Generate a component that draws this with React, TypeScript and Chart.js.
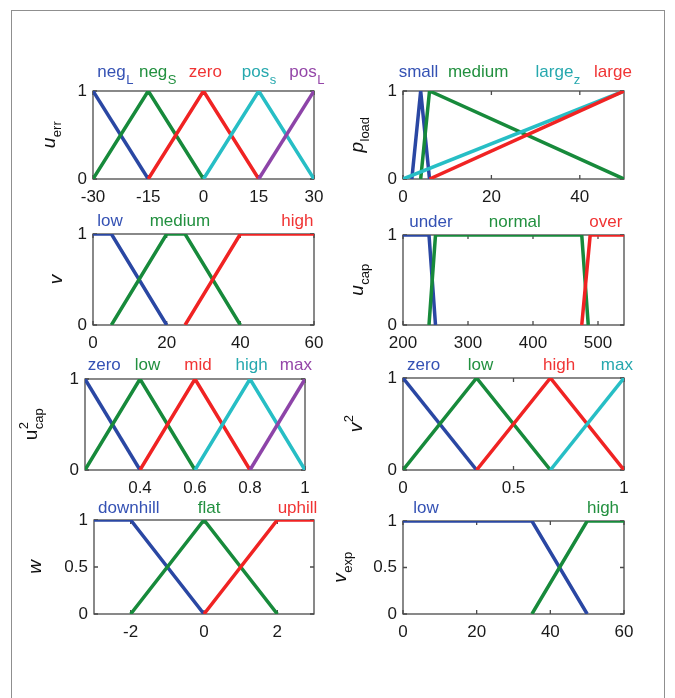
import React, { useEffect, useRef } from "react";
import { Chart, registerables } from "chart.js";
Chart.register(...registerables);

const FONT = "'Liberation Sans', Arial, Helvetica, sans-serif";

// ---------------- DATA ----------------
// Panel 1: u_err
const errTicks = [-30, -15, 0, 15, 30];
const errNegL = [[-30, 1], [-15, 0]];
const errNegS = [[-30, 0], [-15, 1], [0, 0]];
const errZero = [[-15, 0], [0, 1], [15, 0]];
const errPosS = [[0, 0], [15, 1], [30, 0]];
const errPosL = [[15, 0], [30, 1]];
const errNames = ["neg", "neg", "zero", "pos", "pos"];
const errSubs = ["L", "S", "", "s", "L"];
const errNameAt = [-24, -12.5, 0.5, 15, 28];

// Panel 2: p_load
const loadTicks = [0, 20, 40];
const loadSmall = [[2, 0], [4, 1], [6, 0]];
const loadMedium = [[4, 0], [6, 1], [50, 0]];
const loadLargeZ = [[0, 0], [50, 1]];
const loadLarge = [[6, 0], [50, 1]];
const loadNames = ["small", "medium", "large", "large"];
const loadSubs = ["", "", "z", ""];
const loadNameAt = [3.5, 17, 35, 47.5];

// Panel 3: v
const vTicks = [0, 20, 40, 60];
const vLow = [[0, 1], [5, 1], [20, 0]];
const vMedium = [[5, 0], [20, 1], [25, 1], [40, 0]];
const vHigh = [[25, 0], [40, 1], [60, 1]];
const vNames = ["low", "medium", "high"];
const vNameAt = [4.6, 23.6, 55.5];

// Panel 4: u_cap
const capTicks = [200, 300, 400, 500];
const capUnder = [[200, 1], [240, 1], [250, 0]];
const capNormal = [[240, 0], [250, 1], [475, 1], [485, 0]];
const capOver = [[475, 0], [488, 1], [540, 1]];
const capNames = ["under", "normal", "over"];
const capNameAt = [243, 372, 512];

// Panel 5: u^2_cap
const cap2Ticks = [0.4, 0.6, 0.8, 1];
const cap2Zero = [[0.2, 1], [0.4, 0]];
const cap2Low = [[0.2, 0], [0.4, 1], [0.6, 0]];
const cap2Mid = [[0.4, 0], [0.6, 1], [0.8, 0]];
const cap2High = [[0.6, 0], [0.8, 1], [1, 0]];
const cap2Max = [[0.8, 0], [1, 1]];
const cap2Names = ["zero", "low", "mid", "high", "max"];
const cap2NameAt = [0.27, 0.427, 0.611, 0.806, 0.967];

// Panel 6: v^2
const v2Ticks = [0, 0.5, 1];
const v2Zero = [[0, 1], [0.333, 0]];
const v2Low = [[0, 0], [0.333, 1], [0.667, 0]];
const v2High = [[0.333, 0], [0.667, 1], [1, 0]];
const v2Max = [[0.667, 0], [1, 1]];
const v2Names = ["zero", "low", "high", "max"];
const v2NameAt = [0.093, 0.351, 0.706, 0.968];

// Panel 7: w
const wTicks = [-2, 0, 2];
const wDownhill = [[-3, 1], [-2, 1], [0, 0]];
const wFlat = [[-2, 0], [0, 1], [2, 0]];
const wUphill = [[0, 0], [2, 1], [3, 1]];
const wNames = ["downhill", "flat", "uphill"];
const wNameAt = [-2.05, 0.14, 2.55];

// Panel 8: v_exp
const expTicks = [0, 20, 40, 60];
const expLow = [[0, 1], [35, 1], [50, 0]];
const expHigh = [[35, 0], [50, 1], [60, 1]];
const expNames = ["low", "high"];
const expNameAt = [6.25, 54.3];

const unitTicks = [0, 1];
const halfTicks = [0, 0.5, 1];

// ---------------- STYLE ----------------
const C = {
  blue: "#2a47a3",
  green: "#178a3b",
  red: "#f02323",
  cyan: "#27bec5",
  purple: "#8d44a8",
};
const T = {
  blue: "#3552b4",
  green: "#22903f",
  red: "#f03434",
  cyan: "#26a8ae",
  purple: "#9446a8",
};

const PL = 75, PT = 34, PR = 26, PB = 32;

type Series = { pts: number[][]; color: string; tc: string; name: string; sub: string; at: number };
type Panel = {
  left: number; top: number; w: number; h: number;
  xMin: number; xMax: number; xTicks: number[]; yTicks: number[];
  series: Series[];
  yMain: string; ySub: string; ySup: string; yItalic: boolean; yOff: number;
  raise: number;
};

function mk(pts: number[][][], colors: string[], names: string[], subs: string[], at: number[]): Series[] {
  return pts.map((p, i) => ({
    pts: p,
    color: (C as any)[colors[i]],
    tc: (T as any)[colors[i]],
    name: names[i],
    sub: subs[i] || "",
    at: at[i],
  }));
}

const PANELS: Panel[] = [
  {
    left: 93, top: 91, w: 221, h: 88, xMin: -30, xMax: 30, xTicks: errTicks, yTicks: unitTicks,
    series: mk([errNegL, errNegS, errZero, errPosS, errPosL], ["blue", "green", "red", "cyan", "purple"], errNames, errSubs, errNameAt),
    yMain: "u", ySub: "err", ySup: "", yItalic: true, yOff: 38, raise: 14,
  },
  {
    left: 403, top: 91, w: 221, h: 88, xMin: 0, xMax: 50, xTicks: loadTicks, yTicks: unitTicks,
    series: mk([loadSmall, loadMedium, loadLargeZ, loadLarge], ["blue", "green", "cyan", "red"], loadNames, loadSubs, loadNameAt),
    yMain: "p", ySub: "load", ySup: "", yItalic: true, yOff: 40, raise: 14,
  },
  {
    left: 93, top: 234, w: 221, h: 91, xMin: 0, xMax: 60, xTicks: vTicks, yTicks: unitTicks,
    series: mk([vLow, vMedium, vHigh], ["blue", "green", "red"], vNames, [], vNameAt),
    yMain: "v", ySub: "", ySup: "", yItalic: true, yOff: 31, raise: 8,
  },
  {
    left: 403, top: 235, w: 221, h: 90, xMin: 200, xMax: 540, xTicks: capTicks, yTicks: unitTicks,
    series: mk([capUnder, capNormal, capOver], ["blue", "green", "red"], capNames, [], capNameAt),
    yMain: "u", ySub: "cap", ySup: "", yItalic: true, yOff: 40, raise: 8,
  },
  {
    left: 85, top: 379, w: 220, h: 91, xMin: 0.2, xMax: 1, xTicks: cap2Ticks, yTicks: unitTicks,
    series: mk([cap2Zero, cap2Low, cap2Mid, cap2High, cap2Max], ["blue", "green", "red", "cyan", "purple"], cap2Names, [], cap2NameAt),
    yMain: "u", ySub: "cap", ySup: "2", yItalic: false, yOff: 48, raise: 9,
  },
  {
    left: 403, top: 378, w: 221, h: 92, xMin: 0, xMax: 1, xTicks: v2Ticks, yTicks: unitTicks,
    series: mk([v2Zero, v2Low, v2High, v2Max], ["blue", "green", "red", "cyan"], v2Names, [], v2NameAt),
    yMain: "v", ySub: "", ySup: "2", yItalic: true, yOff: 41, raise: 8,
  },
  {
    left: 94, top: 520, w: 220, h: 94, xMin: -3, xMax: 3, xTicks: wTicks, yTicks: halfTicks,
    series: mk([wDownhill, wFlat, wUphill], ["blue", "green", "red"], wNames, [], wNameAt),
    yMain: "w", ySub: "", ySup: "", yItalic: true, yOff: 53, raise: 7,
  },
  {
    left: 403, top: 521, w: 221, h: 93, xMin: 0, xMax: 60, xTicks: expTicks, yTicks: halfTicks,
    series: mk([expLow, expHigh], ["blue", "green"], expNames, [], expNameAt),
    yMain: "v", ySub: "exp", ySup: "", yItalic: true, yOff: 57, raise: 8,
  },
];

function drawRich(
  ctx: CanvasRenderingContext2D, cx: number, y: number,
  main: string, sub: string, sup: string,
  mainFont: string, smallFont: string, subShift: number, supShift: number, color: string
) {
  ctx.font = mainFont;
  const wm = ctx.measureText(main).width;
  ctx.font = smallFont;
  const ws = sub ? ctx.measureText(sub).width : 0;
  const wp = sup ? ctx.measureText(sup).width : 0;
  const total = wm + Math.max(ws, wp);
  const x0 = cx - total / 2;
  ctx.fillStyle = color;
  ctx.textAlign = "left";
  ctx.textBaseline = "alphabetic";
  ctx.font = mainFont;
  ctx.fillText(main, x0, y);
  ctx.font = smallFont;
  if (sub) ctx.fillText(sub, x0 + wm + 0.5, y + subShift);
  if (sup) ctx.fillText(sup, x0 + wm + 0.5, y - supShift);
}

function makeDecor(p: Panel) {
  return {
    id: "decor",
    beforeDatasetsDraw(chart: any) {
      const { ctx, chartArea: a, scales } = chart;
      ctx.save();
      ctx.strokeStyle = "#4a4a4a";
      ctx.lineWidth = 1.3;
      ctx.strokeRect(a.left, a.top, a.right - a.left, a.bottom - a.top);
      ctx.beginPath();
      for (const t of scales.x.ticks) {
        const px = scales.x.getPixelForValue(t.value);
        ctx.moveTo(px, a.bottom); ctx.lineTo(px, a.bottom - 4);
        ctx.moveTo(px, a.top); ctx.lineTo(px, a.top + 4);
      }
      for (const t of scales.y.ticks) {
        const py = scales.y.getPixelForValue(t.value);
        ctx.moveTo(a.left, py); ctx.lineTo(a.left + 4, py);
        ctx.moveTo(a.right, py); ctx.lineTo(a.right - 4, py);
      }
      ctx.stroke();
      ctx.restore();
    },
    afterDraw(chart: any) {
      const { ctx, chartArea: a, scales } = chart;
      ctx.save();
      for (const s of p.series) {
        const cx = scales.x.getPixelForValue(s.at);
        drawRich(ctx, cx, a.top - p.raise, s.name, s.sub, "", `17px ${FONT}`, `13px ${FONT}`, 7, 0, s.tc);
      }
      ctx.restore();
      ctx.save();
      ctx.translate(a.left - p.yOff, (a.top + a.bottom) / 2);
      ctx.rotate(-Math.PI / 2);
      drawRich(ctx, 0, 0, p.yMain, p.ySub, p.ySup,
        `${p.yItalic ? "italic " : ""}19px ${FONT}`, `13px ${FONT}`, 6, 9, "#111");
      ctx.restore();
    },
  };
}

function makeChart(canvas: HTMLCanvasElement, p: Panel) {
  const tickFont = { family: FONT, size: 17 };
  return new Chart(canvas, {
    type: "line",
    data: {
      datasets: p.series.map((s, i) => ({
        data: s.pts.map(([x, y]) => ({ x, y })),
        borderColor: s.color,
        backgroundColor: s.color,
        borderWidth: 3.5,
        borderJoinStyle: "round" as const,
        pointRadius: 0,
        fill: false,
        tension: 0,
        order: -i,
      })),
    },
    options: {
      animation: false,
      responsive: false,
      devicePixelRatio: 1,
      layout: { padding: { left: 0, top: PT, right: PR, bottom: 0 } },
      plugins: { legend: { display: false }, tooltip: { enabled: false } },
      scales: {
        x: {
          type: "linear",
          min: p.xMin,
          max: p.xMax,
          afterBuildTicks: (s: any) => { s.ticks = p.xTicks.map((v) => ({ value: v })); },
          afterFit: (s: any) => { s.height = PB; },
          grid: { display: false, drawTicks: false },
          border: { display: false },
          ticks: {
            font: tickFont, color: "#1a1a1a", padding: 8, maxRotation: 0, autoSkip: false,
            callback: (v: any) => String(v),
          },
        },
        y: {
          type: "linear",
          min: 0,
          max: 1,
          afterBuildTicks: (s: any) => { s.ticks = p.yTicks.map((v) => ({ value: v })); },
          afterFit: (s: any) => { s.width = PL; },
          grid: { display: false, drawTicks: false },
          border: { display: false },
          ticks: {
            font: tickFont, color: "#1a1a1a", padding: 6, autoSkip: false,
            callback: (v: any) => String(v),
          },
        },
      },
    } as any,
    plugins: [makeDecor(p)],
  });
}

export default function App() {
  const refs = useRef<(HTMLCanvasElement | null)[]>([]);
  useEffect(() => {
    const charts = PANELS.map((p, i) => makeChart(refs.current[i] as HTMLCanvasElement, p));
    return () => charts.forEach((c) => c.destroy());
  }, []);
  return (
    <div style={{ position: "absolute", left: 0, top: 0, width: 675, height: 698, overflow: "hidden", background: "#fff" }}>
      <div style={{ position: "absolute", left: 11, top: 10, width: 654, height: 740, border: "1px solid #8f8f8f", boxSizing: "border-box" }} />
      {PANELS.map((p, i) => {
        const W = PL + p.w + PR;
        const H = PT + p.h + PB;
        return (
          <canvas
            key={i}
            ref={(el) => { refs.current[i] = el; }}
            width={W}
            height={H}
            style={{ position: "absolute", left: p.left - PL, top: p.top - PT, width: W, height: H }}
          />
        );
      })}
    </div>
  );
}
